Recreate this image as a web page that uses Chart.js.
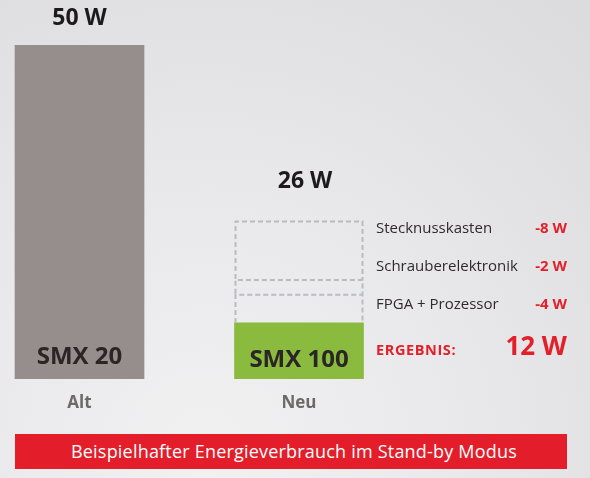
<!DOCTYPE html>
<html>
<head>
<meta charset="utf-8">
<script src="https://cdn.jsdelivr.net/npm/chart.js@4/dist/chart.umd.min.js"></script>
<style>
  html, body { margin: 0; padding: 0; }
  body {
    width: 590px; height: 478px; overflow: hidden; position: relative;
    font-family: 'Open Sans', sans-serif;
    background: radial-gradient(ellipse 95% 120% at 35% 95%, #f1f1f2 0%, #e9e9eb 45%, #dcdcdf 100%);
  }
  #wrap { position: absolute; left: 0; top: 0; width: 590px; height: 478px; }
  #band {
    position: absolute; left: 15px; top: 434px; width: 552px; height: 35px;
    background: #e31e2a; color: #fff; font-size: 18px; letter-spacing: 0.2px;
    line-height: 35px; text-align: center; text-indent: 6px;
  }
</style>
</head>
<body>
<div id="wrap"><canvas id="c" width="590" height="478"></canvas></div>
<div id="band">Beispielhafter Energieverbrauch im Stand-by Modus</div>
<script>
// Standby consumption, old vs. new controller
const categories = ['Alt', 'Neu'];
const modelNames = ['SMX 20', 'SMX 100'];
const powerWatts = [50, 12];

// Savings of the new controller, listed top to bottom
const savingNames = ['Stecknusskasten', 'Schrauberelektronik', 'FPGA + Prozessor'];
const savingWatts = [8, 2, 4];

const RED = '#e32029';
const FONT = "'Open Sans', sans-serif";

const datasets = [
  { label: modelNames[0], data: [{ x: 0, y: powerWatts[0] }], backgroundColor: '#968d8d' },
  { label: modelNames[1], data: [{ x: 1, y: powerWatts[1] }], backgroundColor: '#8aba3e' }
];
// saved parts sit on top of the new bar, bottom-most entry first
for (let i = savingNames.length - 1; i >= 0; i--) {
  datasets.push({
    label: savingNames[i], data: [{ x: 1, y: savingWatts[i] }],
    backgroundColor: 'rgba(0,0,0,0)', dashed: true
  });
}
datasets.forEach(d => { d.stack = 'p'; d.barThickness = 129; d.borderWidth = 0; d.clip = 0; });

const total = powerWatts[1] + savingWatts.reduce((a, b) => a + b, 0);

const overlay = {
  id: 'overlay',
  afterDatasetsDraw(chart) {
    const ctx = chart.ctx;
    const area = chart.chartArea;
    const y = chart.scales.y;
    ctx.save();

    // dashed outlines of the saved parts (sides and top of each part)
    ctx.setLineDash([5, 3]);
    ctx.lineWidth = 2;
    ctx.strokeStyle = '#b8bbbf';
    chart.data.datasets.forEach((ds, i) => {
      if (!ds.dashed) return;
      const el = chart.getDatasetMeta(i).data[0];
      const l = el.x - el.width / 2 + 1, r = el.x + el.width / 2 - 1;
      ctx.beginPath();
      ctx.moveTo(l, el.base);
      ctx.lineTo(l, el.y + 1);
      ctx.lineTo(r, el.y + 1);
      ctx.lineTo(r, el.base);
      ctx.stroke();
    });
    ctx.setLineDash([]);

    // totals above the bars
    const alt = chart.getDatasetMeta(0).data[0];
    const neu = chart.getDatasetMeta(1).data[0];
    ctx.textAlign = 'center';
    ctx.textBaseline = 'middle';
    ctx.fillStyle = '#1e1a1b';
    ctx.font = `bold 23px ${FONT}`;
    ctx.fillText(`${powerWatts[0]} W`, alt.x, alt.y - 27);
    ctx.fillText(`${total} W`, neu.x + 6, y.getPixelForValue(total) - 39);

    // model names inside the bars
    ctx.fillStyle = '#2b2526';
    ctx.font = `bold 24px ${FONT}`;
    ctx.fillText(modelNames[0], alt.x, area.bottom - 22);
    ctx.fillText(modelNames[1], neu.x, area.bottom - 19);

    // list of savings beside the new bar
    const xl = 376, xr = 567;
    const top = y.getPixelForValue(total);
    const bottom = y.getPixelForValue(powerWatts[1]);
    const h = (bottom - top) / savingNames.length;
    savingNames.forEach((name, i) => {
      const cy = top + h * (i + 0.5) - 9 + 4 * i;
      ctx.textAlign = 'left';
      ctx.fillStyle = '#2f2b2c';
      ctx.font = `15px ${FONT}`;
      ctx.fillText(name, xl, cy);
      ctx.textAlign = 'right';
      ctx.fillStyle = RED;
      ctx.font = `bold 15px ${FONT}`;
      ctx.fillText(`-${savingWatts[i]} W`, xr, cy);
    });

    // result row
    const ry = (bottom + area.bottom) / 2;
    ctx.textAlign = 'left';
    ctx.fillStyle = RED;
    ctx.font = `bold 14.5px ${FONT}`;
    ctx.letterSpacing = '0.6px';
    ctx.fillText('ERGEBNIS:', xl, ry);
    ctx.letterSpacing = '0px';
    ctx.textAlign = 'right';
    ctx.font = `bold 26px ${FONT}`;
    ctx.fillText(`${powerWatts[1]} W`, xr, ry - 3);

    ctx.restore();
  }
};

new Chart(document.getElementById('c'), {
  type: 'bar',
  data: { datasets },
  options: {
    responsive: false,
    animation: false,
    events: [],
    layout: { padding: { top: 45, bottom: 59, left: 0, right: 0 } },
    plugins: { legend: { display: false }, tooltip: { enabled: false } },
    scales: {
      x: {
        type: 'linear', stacked: true, offset: false,
        min: -0.3622, max: 2.3257,
        grid: { display: false, drawTicks: false },
        border: { display: false },
        afterBuildTicks: s => { s.ticks = categories.map((_, i) => ({ value: i })); },
        afterFit: s => { s.height = 40; },
        ticks: {
          padding: 14,
          color: '#6e6969',
          font: { family: FONT, size: 17, weight: 'bold' },
          callback: v => categories[v] ?? ''
        }
      },
      y: { display: false, stacked: true, min: 4.33, max: 50 }
    }
  },
  plugins: [overlay]
});
</script>
</body>
</html>
